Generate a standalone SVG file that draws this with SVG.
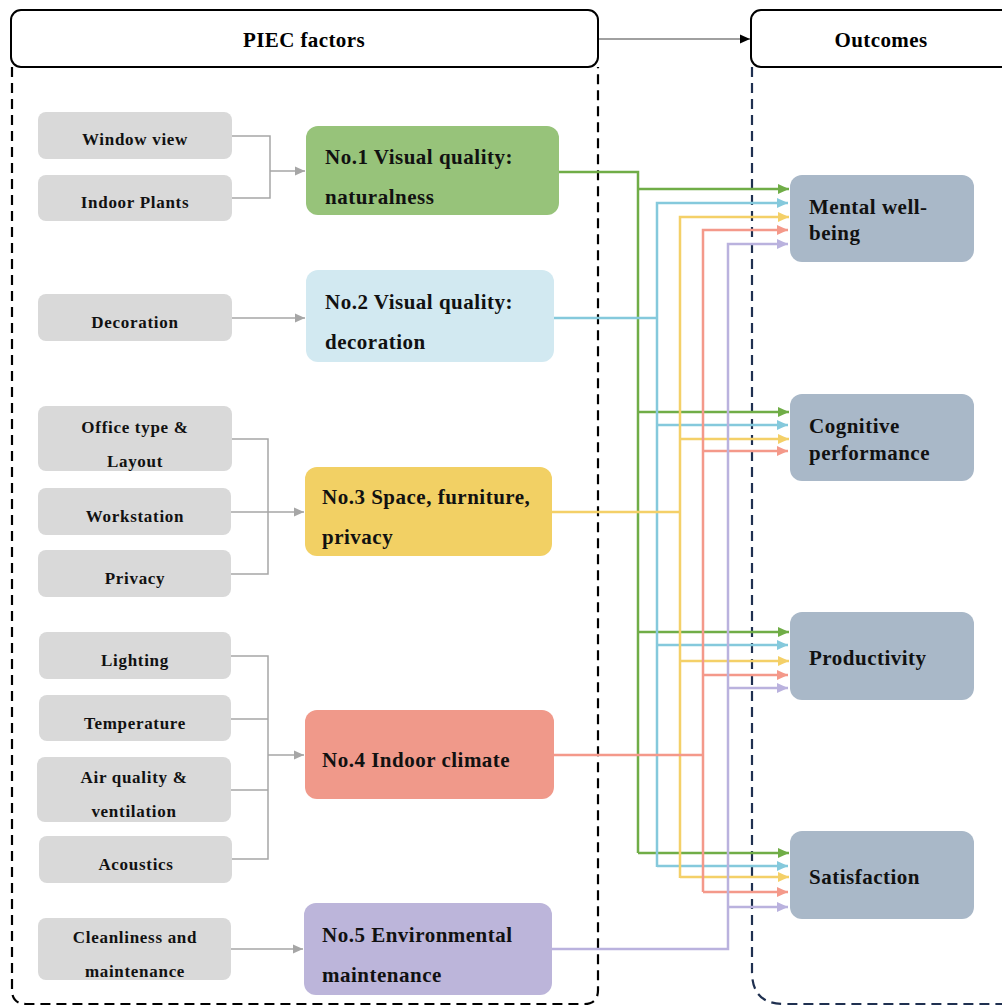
<svg xmlns="http://www.w3.org/2000/svg" width="1002" height="1007" viewBox="0 0 1002 1007">
<style>
.hdr{fill:#fff;stroke:#000;stroke-width:2}
.ht{font-family:"Liberation Serif",serif;font-weight:bold;font-size:21px;fill:#000;text-anchor:middle;letter-spacing:0.4px}
.fb{fill:#d9d9d9}
.ft{font-family:"Liberation Serif",serif;font-weight:bold;font-size:17px;fill:#111;text-anchor:middle;letter-spacing:0.7px}
.ct{font-family:"Liberation Serif",serif;font-weight:bold;font-size:21px;fill:#111;letter-spacing:0.5px}
.ob{fill:#a9b8c8}
.gl{fill:none;stroke:#a6a6a6;stroke-width:1.5}
.cl{fill:none;stroke-width:2.5}
</style>
<defs>
<marker id="ag" markerUnits="userSpaceOnUse" markerWidth="12" markerHeight="10" refX="10" refY="5" orient="auto"><path d="M0,0.5 L10,5 L0,9.5 Z" fill="#a6a6a6"/></marker>
<marker id="ab" markerUnits="userSpaceOnUse" markerWidth="12" markerHeight="10" refX="10" refY="5" orient="auto"><path d="M0,0.5 L10,5 L0,9.5 Z" fill="#000"/></marker>
<marker id="m1" markerUnits="userSpaceOnUse" markerWidth="12" markerHeight="12" refX="11" refY="6" orient="auto"><path d="M0,1 L11,6 L0,11 Z" fill="#70ad47"/></marker>
<marker id="m2" markerUnits="userSpaceOnUse" markerWidth="12" markerHeight="12" refX="11" refY="6" orient="auto"><path d="M0,1 L11,6 L0,11 Z" fill="#85c9dc"/></marker>
<marker id="m3" markerUnits="userSpaceOnUse" markerWidth="12" markerHeight="12" refX="11" refY="6" orient="auto"><path d="M0,1 L11,6 L0,11 Z" fill="#f4d068"/></marker>
<marker id="m4" markerUnits="userSpaceOnUse" markerWidth="12" markerHeight="12" refX="11" refY="6" orient="auto"><path d="M0,1 L11,6 L0,11 Z" fill="#f4998a"/></marker>
<marker id="m5" markerUnits="userSpaceOnUse" markerWidth="12" markerHeight="12" refX="11" refY="6" orient="auto"><path d="M0,1 L11,6 L0,11 Z" fill="#bab2de"/></marker>
</defs>

<g id="frames">
<path d="M12,67 V990 Q12,1004 26,1004 H584 Q598,1004 598,990 V67" fill="none" stroke="#000" stroke-width="2.2" stroke-dasharray="10 6"/>
<path d="M752,67 V972 Q752,1004 784,1004 H1002" fill="none" stroke="#1f3050" stroke-width="2.2" stroke-dasharray="10 6"/>
</g>

<g id="header-piec"><rect class="hdr" x="11" y="10" width="587" height="57" rx="10"/><text class="ht" x="304" y="47">PIEC factors</text></g>
<g id="header-outcomes"><rect class="hdr" x="751" y="10" width="270" height="57" rx="10"/><text class="ht" x="881" y="47">Outcomes</text></g>

<g id="connectors">
<path d="M599,39 H750" fill="none" stroke="#808080" stroke-width="1.5" marker-end="url(#ab)"/>
<path class="gl" d="M232,136 H270 V198 H232"/>
<path class="gl" d="M270,171 H305" marker-end="url(#ag)"/>
<path class="gl" d="M232,318 H305" marker-end="url(#ag)"/>
<path class="gl" d="M232,439 H268 V574 H231"/>
<path class="gl" d="M231,512 H304" marker-end="url(#ag)"/>
<path class="gl" d="M231,656 H268 V859 H232 M231,719 H268 M231,790 H268"/>
<path class="gl" d="M268,755 H304" marker-end="url(#ag)"/>
<path class="gl" d="M231,949 H303" marker-end="url(#ag)"/>

<g>
<path class="cl" stroke="#70ad47" d="M559,172 H638 V853"/>
<path class="cl" stroke="#70ad47" d="M638,189 H789" marker-end="url(#m1)"/>
<path class="cl" stroke="#70ad47" d="M638,412 H789" marker-end="url(#m1)"/>
<path class="cl" stroke="#70ad47" d="M638,632 H789" marker-end="url(#m1)"/>
<path class="cl" stroke="#70ad47" d="M638,853 H789" marker-end="url(#m1)"/>
</g>
<g>
<path class="cl" stroke="#85c9dc" d="M554,318 H657"/>
<path class="cl" stroke="#85c9dc" d="M657,867 V203 H788" marker-end="url(#m2)"/>
<path class="cl" stroke="#85c9dc" d="M657,425 H788" marker-end="url(#m2)"/>
<path class="cl" stroke="#85c9dc" d="M657,645 H788" marker-end="url(#m2)"/>
<path class="cl" stroke="#85c9dc" d="M657,866 H788" marker-end="url(#m2)"/>
</g>
<g>
<path class="cl" stroke="#f4d068" d="M552,512 H680"/>
<path class="cl" stroke="#f4d068" d="M680,878 V217 H789" marker-end="url(#m3)"/>
<path class="cl" stroke="#f4d068" d="M680,439 H789" marker-end="url(#m3)"/>
<path class="cl" stroke="#f4d068" d="M680,661 H789" marker-end="url(#m3)"/>
<path class="cl" stroke="#f4d068" d="M680,877 H789" marker-end="url(#m3)"/>
</g>
<g>
<path class="cl" stroke="#f4998a" d="M554,755 H703"/>
<path class="cl" stroke="#f4998a" d="M703,892 V230 H788" marker-end="url(#m4)"/>
<path class="cl" stroke="#f4998a" d="M703,451 H788" marker-end="url(#m4)"/>
<path class="cl" stroke="#f4998a" d="M703,675 H788" marker-end="url(#m4)"/>
<path class="cl" stroke="#f4998a" d="M703,892 H788" marker-end="url(#m4)"/>
</g>
<g>
<path class="cl" stroke="#bab2de" d="M552,949 H728 V244 H788" marker-end="url(#m5)"/>
<path class="cl" stroke="#bab2de" d="M728,688 H788" marker-end="url(#m5)"/>
<path class="cl" stroke="#bab2de" d="M728,907 H788" marker-end="url(#m5)"/>
</g>
</g>

<g id="f-window"><rect class="fb" x="38" y="112" width="194" height="47" rx="8"/><text class="ft" x="135" y="145">Window view</text></g>
<g id="f-plants"><rect class="fb" x="38" y="175" width="194" height="46" rx="8"/><text class="ft" x="135" y="208">Indoor Plants</text></g>
<g id="f-decoration"><rect class="fb" x="38" y="294" width="194" height="47" rx="8"/><text class="ft" x="135" y="328">Decoration</text></g>
<g id="f-office"><rect class="fb" x="38" y="406" width="194" height="65" rx="8"/><text class="ft" x="135" y="433">Office type &amp;</text><text class="ft" x="135" y="467">Layout</text></g>
<g id="f-workstation"><rect class="fb" x="38" y="488" width="193" height="47" rx="8"/><text class="ft" x="135" y="522">Workstation</text></g>
<g id="f-privacy"><rect class="fb" x="38" y="550" width="193" height="47" rx="8"/><text class="ft" x="135" y="584">Privacy</text></g>
<g id="f-lighting"><rect class="fb" x="39" y="632" width="192" height="47" rx="8"/><text class="ft" x="135" y="666">Lighting</text></g>
<g id="f-temperature"><rect class="fb" x="39" y="695" width="192" height="46" rx="8"/><text class="ft" x="135" y="729">Temperature</text></g>
<g id="f-air"><rect class="fb" x="37" y="757" width="194" height="65" rx="8"/><text class="ft" x="134" y="783">Air quality &amp;</text><text class="ft" x="134" y="817">ventilation</text></g>
<g id="f-acoustics"><rect class="fb" x="39" y="836" width="193" height="47" rx="8"/><text class="ft" x="136" y="870">Acoustics</text></g>
<g id="f-clean"><rect class="fb" x="38" y="918" width="193" height="62" rx="8"/><text class="ft" x="135" y="943">Cleanliness and</text><text class="ft" x="135" y="977">maintenance</text></g>

<g id="c-1"><rect x="306" y="126" width="253" height="89" rx="12" fill="#97c37a"/><text class="ct" x="325" y="164">No.1 Visual quality:</text><text class="ct" x="325" y="204">naturalness</text></g>
<g id="c-2"><rect x="306" y="270" width="248" height="92" rx="12" fill="#d2e9f1"/><text class="ct" x="325" y="309">No.2 Visual quality:</text><text class="ct" x="325" y="349">decoration</text></g>
<g id="c-3"><rect x="305" y="467" width="247" height="89" rx="12" fill="#f2d064"/><text class="ct" x="322" y="504">No.3 Space, furniture,</text><text class="ct" x="322" y="544">privacy</text></g>
<g id="c-4"><rect x="305" y="710" width="249" height="89" rx="12" fill="#f0998a"/><text class="ct" x="322" y="767">No.4 Indoor climate</text></g>
<g id="c-5"><rect x="304" y="903" width="248" height="92" rx="12" fill="#bcb5da"/><text class="ct" x="322" y="942">No.5 Environmental</text><text class="ct" x="322" y="982">maintenance</text></g>

<g id="o-mental"><rect class="ob" x="790" y="175" width="184" height="87" rx="12"/><text class="ct" x="809" y="214">Mental well-</text><text class="ct" x="809" y="240">being</text></g>
<g id="o-cognitive"><rect class="ob" x="790" y="394" width="184" height="87" rx="12"/><text class="ct" x="809" y="433">Cognitive</text><text class="ct" x="809" y="460">performance</text></g>
<g id="o-productivity"><rect class="ob" x="790" y="612" width="184" height="88" rx="12"/><text class="ct" x="809" y="665">Productivity</text></g>
<g id="o-satisfaction"><rect class="ob" x="790" y="831" width="184" height="88" rx="12"/><text class="ct" x="809" y="884">Satisfaction</text></g>
</svg>
